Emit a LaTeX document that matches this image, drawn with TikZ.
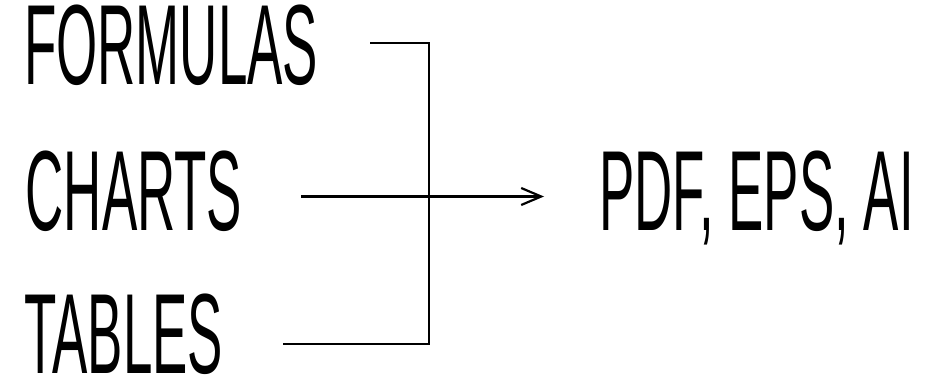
\documentclass[tikz,border=0pt]{standalone}
\usepackage{fontspec}
\setmainfont{Liberation Sans}[FakeStretch=0.464]
\usepackage{tikz}
\usetikzlibrary{arrows.meta,calc}

\tikzset{word/.style={anchor=base west, inner sep=0pt, text height=72pt, text depth=0pt,
                      font=\fontsize{114}{114}\selectfont},
         wire/.style={line width=2.2pt}}

\begin{document}
\begin{tikzpicture}[x=1pt,y=1pt]
\useasboundingbox (0,0) rectangle (928,378);

% the three inputs
\node[word] (formulas) at (24,293) {FORMULAS};
\node[word] (charts) at (25.5,147.5) {CHARTS};
\node[word] (tables) at (24,4.5) {TABLES};

% the output
\node[word] (pdf) at (599,148) {PDF, EPS, AI};

% free ends of the lines
\coordinate (F) at (370,335);
\coordinate (C) at (301,181.5);
\coordinate (T) at (283,34);
\coordinate (P) at (544,181.5);

% bracket joining formulas and tables
\draw[wire] (F) -- (429,335) -- (429,34) -- (T);

% arrow from charts to the output
\draw[wire, -{Straight Barb[length=20pt,width=17pt]}] (C) -- (P);

\end{tikzpicture}
\end{document}
